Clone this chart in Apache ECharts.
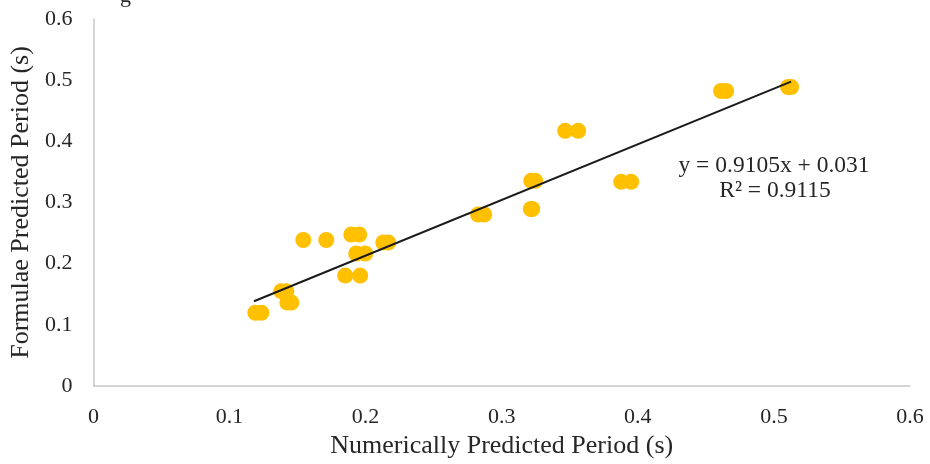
<!DOCTYPE html>
<html>
<head>
<meta charset="utf-8">
<script src="https://cdn.jsdelivr.net/npm/echarts@6/dist/echarts.min.js"></script>
<style>
  html, body { margin: 0; padding: 0; background: #fff; }
  #chart { width: 930px; height: 464px; }
</style>
</head>
<body>
<div id="chart"></div>
<script>
// numerically predicted period (s)
var numPeriod = [
    0.119, 0.1234, 0.138, 0.1417, 0.1425, 0.1454, 0.1542, 0.1711,
    0.1895, 0.1953, 0.1931, 0.1997, 0.185, 0.196, 0.213, 0.2166,
    0.2827, 0.2871, 0.3214, 0.3224, 0.3217, 0.3246, 0.3466, 0.3562,
    0.3878, 0.3951, 0.4612, 0.4649, 0.5104, 0.5126
];
// formulae predicted period (s)
var formPeriod = [
    0.1198, 0.1198, 0.155, 0.155, 0.1365, 0.1365, 0.2387, 0.2387,
    0.2477, 0.2477, 0.2166, 0.2166, 0.1806, 0.1806, 0.2346, 0.2346,
    0.2804, 0.2804, 0.2894, 0.2894, 0.3355, 0.3355, 0.4172, 0.4172,
    0.3338, 0.3338, 0.4823, 0.4823, 0.4888, 0.4888
];
// linear trendline end points
var trendX = [0.118, 0.5126];
var trendY = [0.1385, 0.4977];
var eqText = 'y = 0.9105x + 0.031';
var r2Text = 'R² = 0.9115';

var chart = echarts.init(document.getElementById('chart'));

var pts = [];
for (var i = 0; i < numPeriod.length; i++) {
    pts.push([numPeriod[i], formPeriod[i]]);
}
var trend = [];
for (var j = 0; j < trendX.length; j++) {
    trend.push([trendX[j], trendY[j]]);
}

var font = 'Liberation Serif, Times New Roman, serif';
var option = {
    animation: false,
    grid: { left: 93, right: 20, top: 19, bottom: 78 },
    xAxis: {
        type: 'value',
        min: 0, max: 0.6, interval: 0.1,
        name: 'Numerically Predicted Period (s)',
        nameLocation: 'middle',
        nameGap: 42,
        nameTextStyle: { fontFamily: font, fontSize: 26, color: '#262626' },
        axisLine: { show: true, lineStyle: { color: '#c8c8c8', width: 1.5 } },
        axisTick: { show: false },
        splitLine: { show: false },
        axisLabel: { fontFamily: font, fontSize: 22, color: '#262626', margin: 20 }
    },
    yAxis: {
        type: 'value',
        min: 0, max: 0.6, interval: 0.1,
        name: 'Formulae Predicted Period (s)',
        nameLocation: 'middle',
        nameGap: 57,
        nameTextStyle: { fontFamily: font, fontSize: 26, color: '#262626' },
        axisLine: { show: true, lineStyle: { color: '#c8c8c8', width: 1.5 } },
        axisTick: { show: false },
        splitLine: { show: false },
        axisLabel: { fontFamily: font, fontSize: 22, color: '#262626', margin: 21 }
    },
    series: [
        {
            type: 'scatter',
            data: pts,
            symbolSize: 16,
            itemStyle: { color: '#ffc000', opacity: 1 }
        },
        {
            type: 'line',
            data: trend,
            symbol: 'none',
            lineStyle: { color: '#1a1a1a', width: 2 },
            z: 3
        }
    ],
    graphic: [
        {
            type: 'text', x: 774, y: 166,
            style: { text: eqText, align: 'center', verticalAlign: 'middle', fontFamily: font, fontSize: 23.5, fill: '#262626' }
        },
        {
            type: 'text', x: 775, y: 191,
            style: { text: r2Text, align: 'center', verticalAlign: 'middle', fontFamily: font, fontSize: 23.5, fill: '#262626' }
        },
        {
            type: 'text', x: 120, y: -15,
            style: { text: 'g', fontFamily: font, fontSize: 22, fill: '#262626' }
        }
    ]
};
chart.setOption(option);
</script>
</body>
</html>
